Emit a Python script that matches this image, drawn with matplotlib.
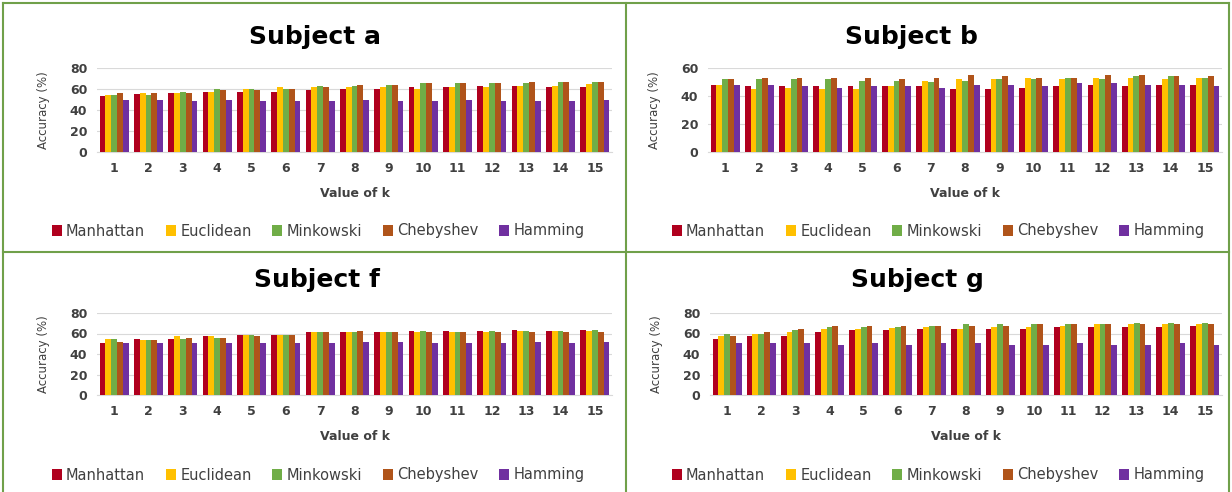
import matplotlib.pyplot as plt
import numpy as np

plt.rcParams['font.family'] = ['DejaVu Sans']

k_values = list(range(1, 16))
metricas = ['Manhattan', 'Euclidean', 'Minkowski', 'Chebyshev', 'Hamming']
colores = ['#B0001E', '#FFC000', '#70AD47', '#B0541A', '#7030A0']

# Subject a
a_manhattan = [53, 55, 56, 57, 57, 57, 59, 60, 60, 62, 62, 63, 63, 62, 62]
a_euclidean = [54, 56, 56, 57, 60, 62, 62, 62, 62, 60, 62, 62, 63, 63, 65]
a_minkowski = [54, 54, 57, 60, 60, 60, 63, 63, 64, 66, 66, 66, 66, 67, 67]
a_chebyshev = [56, 56, 56, 59, 59, 60, 62, 64, 64, 66, 66, 66, 67, 67, 67]
a_hamming = [50, 50, 49, 50, 49, 49, 49, 50, 49, 49, 50, 49, 49, 49, 50]

# Subject b
b_manhattan = [48, 47, 47, 47, 47, 47, 47, 45, 45, 46, 47, 48, 47, 48, 48]
b_euclidean = [48, 45, 46, 45, 45, 47, 51, 52, 52, 53, 52, 53, 53, 52, 53]
b_minkowski = [52, 52, 52, 52, 51, 51, 50, 51, 52, 52, 53, 52, 54, 54, 53]
b_chebyshev = [52, 53, 53, 53, 53, 52, 53, 55, 54, 53, 53, 55, 55, 54, 54]
b_hamming = [48, 48, 47, 46, 47, 47, 46, 48, 48, 47, 49, 49, 48, 48, 47]

# Subject f
f_manhattan = [51, 55, 55, 58, 59, 59, 61, 61, 61, 62, 62, 62, 63, 62, 63]
f_euclidean = [55, 54, 58, 58, 59, 59, 61, 61, 61, 61, 61, 61, 62, 62, 62]
f_minkowski = [55, 54, 55, 56, 59, 59, 61, 61, 61, 62, 61, 62, 62, 62, 63]
f_chebyshev = [52, 54, 56, 56, 58, 59, 61, 62, 61, 61, 61, 61, 61, 61, 61]
f_hamming = [51, 51, 51, 51, 51, 51, 51, 52, 52, 51, 51, 51, 52, 51, 52]

# Subject g
g_manhattan = [55, 58, 58, 61, 63, 63, 64, 64, 64, 64, 66, 66, 66, 66, 67]
g_euclidean = [58, 60, 61, 64, 64, 65, 66, 64, 66, 66, 67, 69, 69, 69, 69]
g_minkowski = [60, 60, 63, 66, 66, 66, 67, 69, 69, 69, 69, 69, 70, 70, 70]
g_chebyshev = [58, 61, 64, 67, 67, 67, 67, 67, 67, 69, 69, 69, 69, 69, 69]
g_hamming = [51, 51, 51, 49, 51, 49, 51, 51, 49, 49, 51, 49, 49, 51, 49]

paneles = [
    ('Subject a', [a_manhattan, a_euclidean, a_minkowski, a_chebyshev, a_hamming], 80),
    ('Subject b', [b_manhattan, b_euclidean, b_minkowski, b_chebyshev, b_hamming], 60),
    ('Subject f', [f_manhattan, f_euclidean, f_minkowski, f_chebyshev, f_hamming], 80),
    ('Subject g', [g_manhattan, g_euclidean, g_minkowski, g_chebyshev, g_hamming], 80),
]

W, H = 1232, 492
fig = plt.figure(figsize=(W / 100, H / 100), dpi=100)

# posiciones en pixeles: (izq, der, y arriba del eje, y de la base, x titulo, y titulo, x leyenda, y leyenda)
cajas = [
    (97, 612, 68, 152, 315, 37, 318, 231),
    (708, 1222, 68, 152, 911, 37, 938, 231),
    (97, 612, 313, 395, 317, 280, 318, 475),
    (710, 1222, 313, 395, 917, 280, 938, 475),
]

def fx(px):
    return px / W

def fy(py):
    return 1 - py / H

ancho = 0.17
x = np.arange(len(k_values))
for (titulo, series, ymax), (x0, x1, ytop, ybot, xtit, ytit, xleg, yleg) in zip(paneles, cajas):
    ax = fig.add_axes([fx(x0), fy(ybot), fx(x1) - fx(x0), fy(ytop) - fy(ybot)])
    handles = []
    for i, (vals, col, nombre) in enumerate(zip(series, colores, metricas)):
        h = ax.bar(x + (i - 2) * ancho, vals, ancho, color=col, label=nombre, zorder=3)
        handles.append(h)
    ax.set_xlim(-0.5, len(k_values) - 0.5)
    ax.set_ylim(0, ymax)
    ax.set_yticks(np.arange(0, ymax + 1, 20))
    ax.set_xticks(x)
    ax.set_xticklabels([str(k) for k in k_values])
    ax.yaxis.grid(True, color='#d9d9d9', lw=0.8, zorder=0)
    for s in ['top', 'right', 'left']:
        ax.spines[s].set_visible(False)
    ax.spines['bottom'].set_color('#d9d9d9')
    ax.tick_params(length=0, labelsize=9, colors='#404040', pad=7)
    for lab in ax.get_xticklabels() + ax.get_yticklabels():
        lab.set_fontweight('bold')
    ax.set_xlabel('Value of k', fontsize=9, fontweight='bold', color='#404040', labelpad=9)
    ax.set_ylabel('Accuracy (%)', fontsize=8.5, color='#404040', labelpad=14)
    fig.text(fx(xtit), fy(ytit), titulo, ha='center', va='center', fontsize=18, fontweight='bold', color='black')
    fig.legend(handles=handles, loc='center', bbox_to_anchor=(fx(xleg), fy(yleg)), ncol=5, frameon=False,
               fontsize=10.5, handlelength=0.7, handleheight=0.7, handletextpad=0.3, columnspacing=1.4,
               labelcolor='#404040')

# bordes verdes de los paneles
verde = '#70A04A'
for xs, ys in [([3, 3], [3, H]), ([626, 626], [3, H]), ([1229, 1229], [3, H]),
               ([3, 1229], [3, 3]), ([3, 1229], [252, 252])]:
    fig.add_artist(plt.Line2D([fx(v) for v in xs], [fy(v) for v in ys], color=verde, lw=1.5))

plt.savefig('out.png', dpi=100)
